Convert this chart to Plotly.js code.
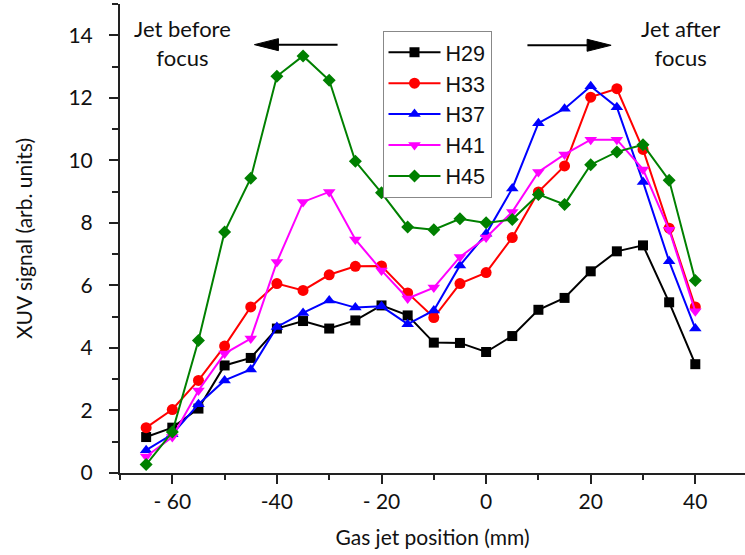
<!DOCTYPE html>
<html>
<head>
<meta charset="utf-8">
<script src="https://cdn.plot.ly/plotly-3.0.1.min.js"></script>
<style>html,body{margin:0;padding:0;background:#fff;}#chart{width:745px;height:555px;}</style>
</head>
<body>
<div id="chart"></div>
<script>
// Gas jet positions (mm)
var positions = [-65,-60,-55,-50,-45,-40,-35,-30,-25,-20,-15,-10,-5,0,5,10,15,20,25,30,35,40];
var seriesNames = ["H29","H33","H37","H41","H45"];
var H29 = [1.15,1.45,2.06,3.44,3.68,4.62,4.86,4.62,4.88,5.36,5.04,4.17,4.16,3.87,4.38,5.22,5.60,6.45,7.09,7.28,5.46,3.48];
var H33 = [1.45,2.03,2.96,4.06,5.31,6.06,5.84,6.34,6.61,6.62,5.76,4.97,6.06,6.41,7.53,8.99,9.82,12.02,12.29,10.35,7.83,5.31];
var H37 = [0.73,1.24,2.20,2.96,3.31,4.67,5.12,5.52,5.29,5.33,4.76,5.20,6.64,7.65,9.10,11.19,11.65,12.37,11.70,9.31,6.77,4.62];
var H41 = [0.53,1.15,2.64,3.82,4.30,6.75,8.67,8.99,7.47,6.48,5.58,5.93,6.91,7.53,8.35,9.63,10.19,10.66,10.66,9.71,7.78,5.17];
var H45 = [0.27,1.31,4.24,7.71,9.43,12.69,13.34,12.56,9.97,8.96,7.87,7.78,8.13,8.00,8.11,8.91,8.59,9.86,10.27,10.50,9.36,6.16];
var xTickVals = [-60,-40,-20,0,20,40];
var xTickText = ["- 60","-40","- 20","0","20","40"];
var yTickVals = [0,2,4,6,8,10,12,14];
var noteTexts = ["Jet before<br>focus","Jet after<br>focus"];

var allSeries = [H29,H33,H37,H41,H45];
var colors = ["#000000","#ff0000","#0000ff","#ff00ff","#008000"];
var symbols = ["square","circle","triangle-up","triangle-down","diamond"];
var sizes = [10,11,11,11,10];

var traces = allSeries.map(function(vals,i){
  return {
    x: positions, y: vals, name: seriesNames[i], type: "scatter", mode: "lines+markers",
    line: {color: colors[i], width: 2},
    marker: {color: colors[i], symbol: symbols[i], size: sizes[i], line: {width: 0}}
  };
});

var tickFont = {family: "Lato, 'Open Sans', sans-serif", size: 21, color: "#111"};
var layout = {
  width: 745, height: 555,
  margin: {l: 120, r: 0, t: 4, b: 82, pad: 0},
  paper_bgcolor: "#fff", plot_bgcolor: "#fff",
  showlegend: true,
  legend: {
    x: 0.42, y: 0.943, xanchor: "left", yanchor: "top",
    bgcolor: "#fff", bordercolor: "#888", borderwidth: 1,
    font: {family: "'Liberation Sans', Arial, sans-serif", size: 21.5, color: "#111"},
    tracegroupgap: 0, itemwidth: 52
  },
  xaxis: {
    range: [-70, 49.5], showgrid: false, zeroline: false,
    showline: true, linecolor: "#222", linewidth: 2,
    tickmode: "array", tickvals: xTickVals, ticktext: xTickText,
    ticks: "outside", ticklen: 9, tickwidth: 2, tickcolor: "#222",
    minor: {dtick: 10, tick0: 0, ticks: "outside", ticklen: 5, tickwidth: 2, tickcolor: "#222", showgrid: false},
    tickfont: tickFont,
    title: {text: "Gas jet position (mm)", font: tickFont, standoff: 18}
  },
  yaxis: {
    range: [0, 15], showgrid: false, zeroline: false,
    showline: true, linecolor: "#222", linewidth: 2,
    tickmode: "array", tickvals: yTickVals,
    ticks: "outside", ticklen: 9, tickwidth: 2, tickcolor: "#222",
    minor: {dtick: 1, tick0: 0, ticks: "outside", ticklen: 6, tickwidth: 2, tickcolor: "#222", showgrid: false},
    tickfont: tickFont, ticklabelstandoff: 12,
    title: {text: "XUV signal (arb. units)", font: tickFont, standoff: 30}
  },
  annotations: [
    {x: -58.0, y: 13.75, xref: "x", yref: "y", text: noteTexts[0], showarrow: false,
     xanchor: "center", yanchor: "middle", font: {family: "Lato, sans-serif", size: 22, color: "#111"}},
    {x: 37.2, y: 13.75, xref: "x", yref: "y", text: noteTexts[1], showarrow: false,
     xanchor: "center", yanchor: "middle", font: {family: "Lato, sans-serif", size: 22, color: "#111"}}
  ],
  shapes: [
    {type: "line", xref: "x", yref: "y", x0: -28.4, x1: -41, y0: 13.7, y1: 13.7, line: {color: "#000", width: 2}},
    {type: "path", xref: "x", yref: "y", xsizemode: "pixel", ysizemode: "pixel", xanchor: -44.3, yanchor: 13.7,
     path: "M0,0L24,6L24,-6Z", fillcolor: "#000", line: {color: "#000", width: 1}},
    {type: "line", xref: "x", yref: "y", x0: 7.9, x1: 20.5, y0: 13.68, y1: 13.68, line: {color: "#000", width: 2}},
    {type: "path", xref: "x", yref: "y", xsizemode: "pixel", ysizemode: "pixel", xanchor: 23.9, yanchor: 13.68,
     path: "M0,0L-24,6L-24,-6Z", fillcolor: "#000", line: {color: "#000", width: 1}}
  ]
};

Plotly.newPlot("chart", traces, layout, {displayModeBar: false, staticPlot: true});
</script>
</body>
</html>
